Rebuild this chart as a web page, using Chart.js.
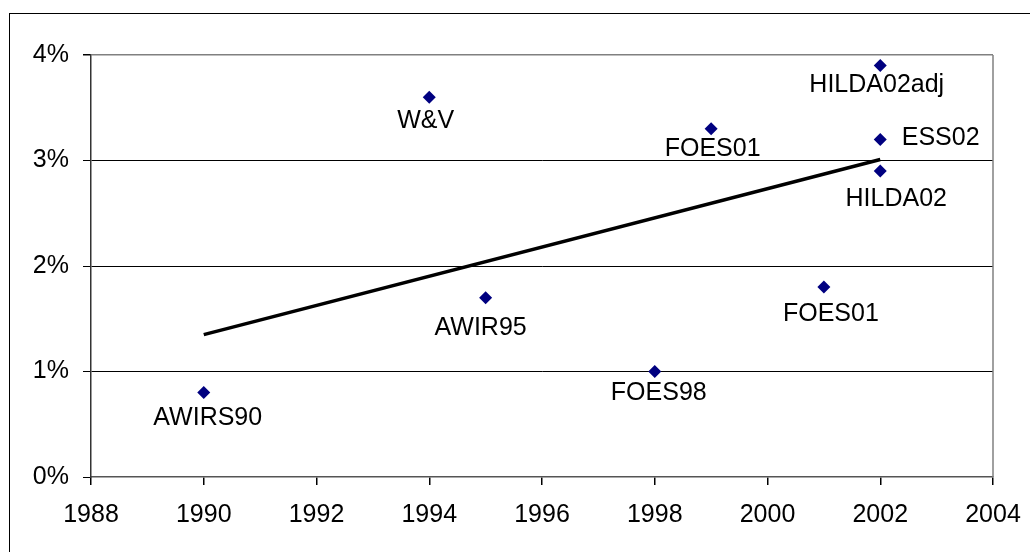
<!DOCTYPE html>
<html><head><meta charset="utf-8">
<script src="https://cdn.jsdelivr.net/npm/chart.js@4"></script>
<style>
html,body{margin:0;padding:0;background:#fff;overflow:hidden}
#wrap{position:relative;width:1030px;height:552px}
#frame{position:absolute;left:9px;top:13px;width:1040px;height:560px;border:1.5px solid #000;pointer-events:none}
canvas{position:absolute;left:0;top:0}
</style></head><body>
<div id="wrap"><canvas id="c" width="1030" height="552"></canvas><div id="frame"></div></div>
<script>
// ---- data ----
const studyLabels = ['AWIRS90','W&V','AWIR95','FOES98','FOES01','FOES01','HILDA02adj','ESS02','HILDA02'];
const studyYears  = [1990, 1994, 1995, 1998, 1999, 2001, 2002, 2002, 2002];
const studyValues = [0.8, 3.6, 1.7, 1.0, 3.3, 1.8, 3.9, 3.2, 2.9];
const trendYears  = [1990, 2002];
const trendValues = [1.35, 3.01];
const xTickLabels = [1988, 1990, 1992, 1994, 1996, 1998, 2000, 2002, 2004];
const yTickLabels = ['0%', '1%', '2%', '3%', '4%'];

// ---- label placement (style only): [dx, dy(baseline), align] ----
const labelPlacement = [
  [4, 32, 'center'], [-3.5, 31, 'center'], [-5, 37, 'center'], [4, 28, 'center'],
  [1.5, 27, 'center'], [7, 34, 'center'], [-3.5, 26, 'center'], [21.5, 6, 'left'], [16, 35, 'center']
];

const FONT = "'Liberation Sans', Arial, sans-serif";

const pointLabelsPlugin = {
  id: 'pointLabels',
  afterDatasetsDraw(chart) {
    const meta = chart.getDatasetMeta(0);
    const ctx = chart.ctx;
    ctx.save();
    ctx.font = '25px ' + FONT;
    ctx.fillStyle = '#000';
    ctx.textBaseline = 'alphabetic';
    meta.data.forEach((el, i) => {
      const p = labelPlacement[i];
      ctx.textAlign = p[2];
      ctx.fillText(studyLabels[i], el.x + p[0], el.y + p[1]);
    });
    ctx.restore();
  }
};

const plotBorderPlugin = {
  id: 'plotBorder',
  afterDraw(chart) {
    const a = chart.chartArea, ctx = chart.ctx;
    ctx.save();
    ctx.strokeStyle = '#808080';
    ctx.lineWidth = 1.5;
    ctx.beginPath();
    ctx.moveTo(a.right, a.top);
    ctx.lineTo(a.right, a.bottom);
    ctx.stroke();
    ctx.restore();
  }
};

new Chart(document.getElementById('c'), {
  type: 'scatter',
  data: {
    datasets: [
      {
        data: studyYears.map((x, i) => ({x, y: studyValues[i]})),
        pointStyle: 'rectRot',
        pointRadius: 6.5,
        pointHoverRadius: 6.5,
        backgroundColor: '#000080',
        borderColor: '#000080',
        borderWidth: 0,
        showLine: false
      },
      {
        data: trendYears.map((x, i) => ({x, y: trendValues[i]})),
        showLine: true,
        borderColor: '#000',
        borderWidth: 3.5,
        pointRadius: 0,
        fill: false
      }
    ]
  },
  options: {
    responsive: false,
    animation: false,
    devicePixelRatio: 1,
    layout: { padding: { left: 0, top: 55, right: 37, bottom: 0 } },
    plugins: { legend: { display: false }, tooltip: { enabled: false } },
    scales: {
      x: {
        type: 'linear', min: xTickLabels[0], max: xTickLabels[xTickLabels.length - 1],
        afterBuildTicks: s => { s.ticks = xTickLabels.map(v => ({value: v})); },
        afterFit: s => { s.height = 75; s.paddingLeft = 0; s.paddingRight = 0; },
        ticks: { callback: v => String(v), color: '#000', font: { family: FONT, size: 25 }, padding: 15, maxRotation: 0 },
        grid: { drawOnChartArea: false, tickLength: 8, tickColor: '#000', lineWidth: 1.5 },
        border: { color: '#555', width: 1.5 }
      },
      y: {
        min: 0, max: 4,
        afterBuildTicks: s => { s.ticks = yTickLabels.map((t, i) => ({value: i})); },
        afterFit: s => { s.width = 91; s.paddingTop = 0; s.paddingBottom = 0; },
        ticks: { callback: (v, i) => yTickLabels[i], color: '#000', font: { family: FONT, size: 25 }, padding: 14 },
        grid: {
          color: c => (c.tick && c.tick.value === 4) ? '#808080' : (c.tick && c.tick.value === 0 ? 'rgba(0,0,0,0)' : '#000'),
          lineWidth: c => (c.tick && c.tick.value === 4) ? 1.5 : 1,
          tickLength: 8, tickColor: '#000'
        },
        border: { color: '#333', width: 1.5 }
      }
    }
  },
  plugins: [pointLabelsPlugin, plotBorderPlugin]
});
</script>
</body></html>
